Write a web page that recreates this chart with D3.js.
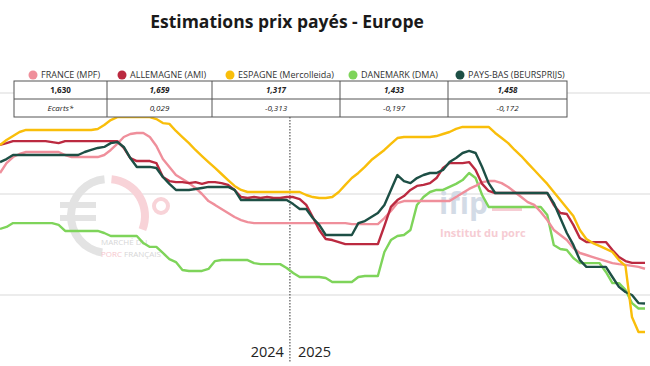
<!DOCTYPE html>
<html><head><meta charset="utf-8">
<script src="https://cdn.jsdelivr.net/npm/d3@7"></script>
<style>
body{margin:0;background:#fff}
svg{display:block;font-family:"Open Sans",sans-serif}
</style>
</head><body>
<svg id="c" width="650" height="366"></svg>
<script>
// ---------------- DATA ----------------
const seriesNames = ["FRANCE (MPF)", "ALLEMAGNE (AMI)", "ESPAGNE (Mercolleida)", "DANEMARK (DMA)", "PAYS-BAS (BEURSPRIJS)"];
const seriesColors = ["#ef8f9b", "#bb2a40", "#f9be0a", "#7ed45a", "#1d4f45"];

const france = [2.104,2.153,2.183,2.198,2.208,2.208,2.208,2.208,2.208,2.208,
  2.193,2.183,2.183,2.183,2.183,2.183,2.193,2.218,2.248,2.282,
  2.297,2.302,2.302,2.282,2.238,2.173,2.134,2.094,2.074,2.054,
  2.030,2.000,1.965,1.946,1.926,1.906,1.886,1.871,1.861,1.856,
  1.856,1.856,1.856,1.856,1.856,1.856,1.856,1.856,1.856,1.856,
  1.856,1.856,1.856,1.856,1.851,1.851,1.851,1.851,1.851,1.881,
  1.916,1.955,1.965,1.965,1.965,1.965,1.965,1.965,1.965,1.965,
  1.985,2.005,2.025,2.040,2.059,2.064,2.064,2.054,2.035,2.010,
  1.985,1.960,1.946,1.911,1.871,1.822,1.797,1.772,1.733,1.708,
  1.698,1.688,1.678,1.668,1.658,1.653,1.649,1.644,1.639,1.630];

const allemagne = [2.243,2.252,2.262,2.262,2.262,2.262,2.262,2.262,2.257,2.252,
  2.262,2.262,2.262,2.262,2.262,2.262,2.262,2.262,2.262,2.228,
  2.178,2.163,2.163,2.163,2.153,2.084,2.064,2.059,2.059,2.054,
  2.059,2.050,2.059,2.059,2.054,2.045,2.020,1.985,1.980,1.985,
  1.980,1.985,1.980,1.980,1.985,1.985,1.975,1.946,1.886,1.822,
  1.777,1.772,1.762,1.752,1.752,1.752,1.752,1.752,1.752,1.842,
  1.936,1.970,1.990,2.020,2.040,2.045,2.054,2.079,2.129,2.153,
  2.153,2.153,2.158,2.119,2.050,2.015,2.005,2.005,2.005,2.005,
  2.005,2.005,2.005,2.005,2.005,1.946,1.906,1.901,1.847,1.782,
  1.762,1.762,1.762,1.762,1.723,1.688,1.668,1.659,1.659,1.659];

const espagne = [2.243,2.267,2.287,2.307,2.317,2.317,2.317,2.317,2.317,2.317,
  2.317,2.317,2.317,2.317,2.317,2.322,2.342,2.366,2.381,2.381,
  2.381,2.381,2.381,2.381,2.371,2.351,2.347,2.312,2.282,2.252,
  2.218,2.188,2.158,2.129,2.099,2.069,2.040,2.020,2.010,2.010,
  2.010,2.010,2.010,2.010,2.010,2.010,2.010,1.995,1.985,1.980,
  1.980,1.985,2.010,2.045,2.079,2.104,2.134,2.168,2.193,2.218,
  2.248,2.277,2.282,2.282,2.282,2.282,2.282,2.287,2.297,2.307,
  2.322,2.332,2.332,2.332,2.332,2.332,2.302,2.277,2.252,2.218,
  2.188,2.153,2.119,2.084,2.050,2.010,1.970,1.931,1.891,1.822,
  1.777,1.757,1.743,1.728,1.713,1.673,1.644,1.391,1.317,1.317];

const danemark = [1.827,1.837,1.856,1.856,1.856,1.856,1.856,1.856,1.856,1.847,
  1.817,1.817,1.817,1.817,1.817,1.817,1.807,1.792,1.792,1.792,
  1.792,1.792,1.757,1.738,1.738,1.708,1.678,1.663,1.624,1.619,
  1.619,1.619,1.629,1.668,1.673,1.673,1.673,1.673,1.673,1.658,
  1.653,1.653,1.653,1.653,1.634,1.609,1.589,1.589,1.589,1.589,
  1.584,1.564,1.564,1.564,1.564,1.589,1.594,1.594,1.594,1.713,
  1.772,1.792,1.797,1.822,1.946,1.985,2.010,2.020,2.020,2.035,
  2.050,2.069,2.104,2.079,1.995,1.936,1.936,1.936,1.936,1.936,
  1.936,1.936,1.936,1.936,1.896,1.748,1.728,1.723,1.683,1.658,
  1.658,1.658,1.658,1.614,1.559,1.559,1.525,1.460,1.433,1.433];

const paysBas = [2.158,2.173,2.193,2.193,2.193,2.193,2.193,2.193,2.193,2.193,
  2.193,2.193,2.193,2.208,2.218,2.228,2.233,2.252,2.257,2.233,
  2.178,2.134,2.134,2.134,2.129,2.084,2.050,2.020,2.020,2.020,
  2.025,2.030,2.035,2.035,2.035,2.035,2.020,1.970,1.970,1.970,
  1.970,1.970,1.970,1.970,1.970,1.950,1.926,1.926,1.881,1.847,
  1.797,1.797,1.797,1.797,1.797,1.856,1.866,1.886,1.906,1.946,
  2.020,2.094,2.064,2.054,2.079,2.094,2.104,2.104,2.119,2.158,
  2.178,2.203,2.213,2.203,2.134,2.054,2.005,2.005,2.005,2.005,
  2.005,2.005,2.005,2.005,2.005,1.955,1.881,1.807,1.748,1.673,
  1.639,1.639,1.639,1.639,1.589,1.540,1.515,1.500,1.460,1.458];

const yearLabels = ["2024", "2025"];
const yearSplitWeek = 44.5;          // week index where 2025 starts
const gridValues = [1.5, 2.0, 2.5];
const ecartsLabel = "Ecarts*";
const title = "Estimations prix payés - Europe";

// ---------------- CHART ----------------
const series = [france, allemagne, espagne, danemark, paysBas];
const W = 650, H = 366;
const svg = d3.select("#c");

const x = d3.scaleLinear().domain([0, france.length - 1]).range([0, 645]);
const y = d3.scaleLinear().domain([1.5, 2.5]).range([295, 93]);

// gridlines
svg.append("g").selectAll("line").data(gridValues).join("line")
  .attr("x1", 0).attr("x2", W)
  .attr("y1", d => y(d)).attr("y2", d => y(d))
  .attr("stroke", "#d9d9d9").attr("stroke-width", 1);

// watermarks
const wm = svg.append("g");
const cx = 108, cy = 216;
const arc = d3.arc().innerRadius(33).outerRadius(41);
wm.append("path").attr("transform", `translate(${cx},${cy})`)
  .attr("d", arc({startAngle: Math.PI * 1.05, endAngle: Math.PI * 1.97}))
  .attr("fill", "#e3e3e3");
wm.append("path").attr("transform", `translate(${cx},${cy})`)
  .attr("d", arc({startAngle: Math.PI * 0.03, endAngle: Math.PI * 0.62}))
  .attr("fill", "#f8d3d8");
wm.append("rect").attr("x", 60).attr("y", 202).attr("width", 36).attr("height", 6).attr("fill", "#e3e3e3");
wm.append("rect").attr("x", 60).attr("y", 215).attr("width", 36).attr("height", 6).attr("fill", "#e3e3e3");
wm.append("circle").attr("cx", 161).attr("cy", 206).attr("r", 7)
  .attr("fill", "none").attr("stroke", "#f8d3d8").attr("stroke-width", 4);
wm.append("text").attr("x", 101).attr("y", 245).attr("font-size", 8)
  .attr("fill", "#d6d6d6").text("MARCHÉ DU");
const pt = wm.append("text").attr("x", 101).attr("y", 257).attr("font-size", 8);
pt.append("tspan").attr("fill", "#f6c6cd").text("PORC ");
pt.append("tspan").attr("fill", "#d6d6d6").text("FRANÇAIS");

wm.append("text").attr("x", 439).attr("y", 214).attr("font-size", 30)
  .attr("font-weight", 700).attr("fill", "#d3dbe6").text("ifip");
wm.append("rect").attr("x", 492).attr("y", 206).attr("width", 30).attr("height", 5).attr("fill", "#f6ccd3");
wm.append("text").attr("x", 440).attr("y", 237).attr("font-size", 11)
  .attr("font-weight", 700).attr("fill", "#f6ccd3").text("Institut du porc");

// year divider
svg.append("line")
  .attr("x1", x(yearSplitWeek)).attr("x2", x(yearSplitWeek))
  .attr("y1", 117).attr("y2", 362)
  .attr("stroke", "#333").attr("stroke-width", 1).attr("stroke-dasharray", "1.5,1.5");

svg.append("text").attr("x", x(yearSplitWeek) - 6).attr("y", 357)
  .attr("text-anchor", "end").attr("font-size", 14.5).attr("fill", "#222").text(yearLabels[0]);
svg.append("text").attr("x", x(yearSplitWeek) + 8).attr("y", 357)
  .attr("text-anchor", "start").attr("font-size", 14.5).attr("fill", "#222").text(yearLabels[1]);

// lines
const line = d3.line().x((d, i) => x(i)).y(d => y(d));
const drawOrder = [3, 0, 1, 4, 2];
svg.append("g").selectAll("path").data(drawOrder).join("path")
  .attr("d", k => line(series[k]))
  .attr("fill", "none")
  .attr("stroke", k => seriesColors[k])
  .attr("stroke-width", 2.4)
  .attr("stroke-linejoin", "round");

// title
svg.append("text").attr("x", 287).attr("y", 28).attr("text-anchor", "middle")
  .attr("font-size", 17.5).attr("font-weight", 700).attr("fill", "#1a1a1a").text(title);

// legend
const legendX = [33, 122, 230, 353, 460];
const lg = svg.append("g");
seriesNames.forEach((n, i) => {
  lg.append("circle").attr("cx", legendX[i]).attr("cy", 75).attr("r", 4.5).attr("fill", seriesColors[i]);
  lg.append("text").attr("x", legendX[i] + 8).attr("y", 78.3).attr("font-size", 9)
    .attr("fill", "#333").text(n);
});

// table
const colEdges = [14, 107, 212, 340, 448, 567];
const rowEdges = [81, 99, 117];
const fmt = v => d3.format(".3f")(v).replace(".", ",").replace("−", "-");
const last = series.map(s => s[s.length - 1]);
const row1 = last.map(fmt);
const row2 = [ecartsLabel].concat(last.slice(1).map(v => fmt(v - last[0])));
const tb = svg.append("g");
tb.append("rect").attr("x", colEdges[0]).attr("y", rowEdges[0])
  .attr("width", colEdges[5] - colEdges[0]).attr("height", rowEdges[2] - rowEdges[0])
  .attr("fill", "#fff").attr("stroke", "#555").attr("stroke-width", 1);
tb.append("line").attr("x1", colEdges[0]).attr("x2", colEdges[5])
  .attr("y1", rowEdges[1]).attr("y2", rowEdges[1]).attr("stroke", "#555");
colEdges.slice(1, 5).forEach(cxp => {
  tb.append("line").attr("x1", cxp).attr("x2", cxp).attr("y1", rowEdges[0]).attr("y2", rowEdges[2]).attr("stroke", "#555");
});
[row1, row2].forEach((row, r) => {
  row.forEach((t, c) => {
    tb.append("text")
      .attr("x", (colEdges[c] + colEdges[c + 1]) / 2)
      .attr("y", (rowEdges[r] + rowEdges[r + 1]) / 2 + 3)
      .attr("text-anchor", "middle").attr("font-size", 8)
      .attr("font-weight", r === 0 ? 700 : 400)
      .attr("font-style", (r === 0 && c === 0) ? "normal" : "italic")
      .attr("fill", "#222").text(t);
  });
});
</script>
</body></html>
